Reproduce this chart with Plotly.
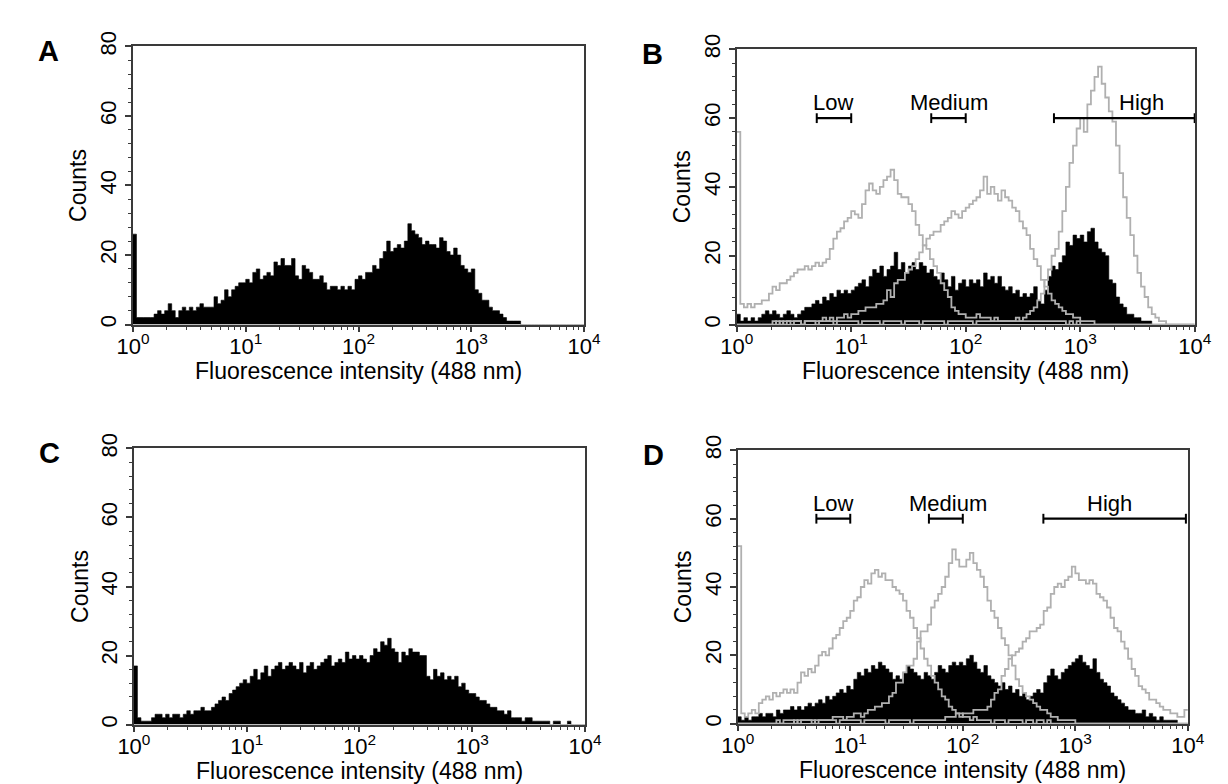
import math
import plotly.graph_objects as go

# flow cytometry histograms, 128 channels over 4 log decades (32 per decade)
CHANNELS_PER_DECADE = 32

A_counts = [
    26, 2, 2, 2, 2, 2, 3, 4, 3, 4, 6, 4, 2, 4, 5, 4,
    5, 4, 5, 6, 5, 5, 5, 8, 6, 7, 10, 8, 10, 11, 12, 12,
    13, 12, 15, 16, 13, 14, 15, 14, 18, 17, 19, 17, 17, 19, 14, 13,
    17, 16, 15, 13, 13, 14, 12, 10, 11, 11, 10, 11, 10, 11, 10, 13,
    14, 13, 15, 15, 17, 16, 19, 21, 24, 21, 22, 23, 22, 24, 29, 27,
    26, 25, 23, 24, 23, 23, 22, 25, 24, 21, 20, 22, 20, 17, 16, 15,
    16, 10, 9, 7, 7, 5, 4, 4, 3, 2, 1, 1, 1, 1, 0, 0,
    0, 0, 0, 0, 0, 0, 0, 0, 0, 0, 0, 0, 0, 0, 0, 0,
]

C_counts = [
    17, 2, 1, 1, 1, 2, 3, 3, 2, 3, 2, 3, 3, 2, 3, 4,
    3, 4, 4, 5, 4, 4, 5, 6, 7, 8, 7, 9, 10, 11, 12, 13,
    12, 14, 16, 13, 15, 17, 14, 16, 17, 18, 16, 17, 18, 17, 16, 18,
    15, 17, 18, 16, 17, 18, 19, 20, 17, 18, 19, 18, 21, 19, 20, 19,
    20, 19, 18, 20, 22, 21, 24, 23, 25, 22, 21, 18, 21, 20, 22, 21,
    21, 20, 20, 14, 13, 16, 14, 15, 13, 14, 13, 14, 11, 12, 10, 9,
    9, 8, 7, 7, 6, 5, 5, 4, 4, 3, 4, 2, 2, 2, 1, 2,
    2, 1, 1, 1, 1, 1, 0, 1, 1, 0, 0, 1, 0, 0, 0, 0,
]

B_counts = [
    3, 1, 2, 1, 2, 1, 2, 3, 4, 3, 4, 3, 2, 3, 4, 3,
    2, 3, 4, 5, 5, 6, 7, 6, 8, 7, 9, 8, 10, 9, 10, 9,
    10, 11, 12, 13, 11, 14, 16, 15, 17, 14, 16, 17, 21, 16, 18, 15,
    17, 18, 16, 18, 17, 15, 16, 14, 13, 15, 13, 11, 14, 10, 12, 13,
    11, 13, 12, 13, 11, 15, 13, 14, 12, 14, 11, 10, 11, 9, 10, 8,
    9, 8, 9, 11, 7, 6, 10, 14, 17, 16, 18, 20, 24, 23, 26, 25,
    26, 24, 27, 28, 24, 22, 21, 20, 13, 12, 8, 6, 5, 3, 3, 2,
    2, 1, 1, 1, 0, 0, 0, 0, 0, 0, 0, 0, 0, 0, 0, 0,
]

B_low = [
    56, 6, 5, 6, 5, 6, 6, 7, 7, 9, 11, 10, 12, 12, 13, 14,
    15, 16, 16, 17, 16, 17, 18, 17, 18, 19, 22, 25, 27, 28, 30, 31,
    33, 32, 31, 35, 39, 41, 39, 38, 40, 42, 43, 45, 42, 38, 37, 37,
    35, 33, 29, 26, 23, 22, 19, 17, 15, 12, 10, 8, 5, 4, 3, 3,
    2, 2, 2, 3, 2, 2, 2, 1, 2, 1, 1, 1, 1, 1, 1, 1,
    1, 1, 1, 1, 1, 1, 1, 1, 1, 1, 1, 1, 0, 1, 0, 1,
    0, 0, 0, 0, 0, 0, 0, 0, 0, 0, 0, 0, 0, 0, 0, 0,
    0, 0, 0, 0, 0, 0, 0, 0, 0, 0, 0, 0, 0, 0, 0, 0,
]

B_medium = [
    0, 0, 0, 0, 0, 0, 0, 0, 0, 0, 1, 0, 1, 0, 1, 1,
    1, 1, 0, 1, 1, 1, 1, 1, 2, 1, 2, 1, 2, 2, 3, 2,
    3, 3, 4, 4, 5, 5, 5, 6, 6, 7, 10, 8, 12, 13, 13, 15,
    16, 17, 19, 21, 23, 25, 26, 27, 27, 29, 30, 31, 33, 32, 31, 33,
    34, 35, 36, 37, 39, 43, 38, 40, 38, 36, 39, 37, 36, 34, 33, 30,
    28, 26, 22, 19, 17, 13, 11, 9, 7, 6, 5, 4, 3, 3, 2, 2,
    1, 1, 1, 1, 0, 0, 0, 0, 0, 0, 0, 0, 0, 0, 0, 0,
    0, 0, 0, 0, 0, 0, 0, 0, 0, 0, 0, 0, 0, 0, 0, 0,
]

B_high = [
    0, 0, 0, 0, 0, 0, 0, 0, 0, 0, 0, 1, 0, 1, 1, 0,
    1, 1, 0, 1, 1, 1, 0, 1, 1, 1, 1, 0, 1, 1, 1, 1,
    1, 1, 0, 1, 1, 1, 1, 1, 0, 1, 1, 1, 1, 1, 0, 1,
    1, 1, 1, 0, 1, 1, 1, 1, 1, 1, 0, 1, 1, 1, 1, 1,
    1, 1, 0, 1, 1, 1, 1, 1, 1, 1, 1, 1, 1, 1, 2, 1,
    2, 3, 4, 5, 7, 9, 13, 16, 20, 22, 27, 33, 40, 47, 52, 57,
    60, 56, 64, 68, 72, 75, 70, 66, 62, 59, 52, 44, 37, 31, 26, 20,
    15, 11, 8, 5, 3, 2, 1, 1, 0, 0, 0, 0, 0, 0, 0, 0,
]

D_counts = [
    2, 1, 2, 1, 2, 2, 3, 2, 3, 3, 2, 4, 3, 4, 4, 5,
    4, 5, 4, 5, 6, 5, 6, 7, 6, 8, 7, 8, 9, 10, 9, 11,
    10, 13, 15, 14, 16, 15, 17, 16, 18, 17, 16, 15, 13, 14, 13, 15,
    17, 16, 15, 14, 13, 15, 14, 13, 15, 17, 16, 15, 17, 18, 17, 18,
    17, 19, 20, 18, 16, 15, 17, 14, 13, 12, 11, 12, 10, 11, 9, 10,
    8, 9, 7, 8, 9, 10, 9, 12, 14, 16, 14, 13, 15, 16, 17, 18,
    19, 20, 18, 17, 16, 19, 15, 13, 12, 11, 9, 8, 7, 6, 5, 4,
    4, 3, 3, 4, 2, 3, 2, 1, 2, 1, 1, 1, 1, 0, 0, 0,
]

D_low = [
    52, 3, 2, 3, 4, 3, 6, 7, 8, 7, 9, 8, 9, 10, 9, 10,
    9, 12, 15, 14, 16, 15, 17, 20, 21, 20, 22, 25, 26, 28, 30, 31,
    33, 36, 37, 40, 42, 41, 44, 45, 43, 44, 42, 42, 40, 39, 38, 36,
    33, 31, 28, 25, 22, 19, 17, 14, 12, 10, 8, 7, 5, 4, 3, 3,
    2, 2, 1, 2, 1, 1, 1, 1, 0, 1, 1, 1, 0, 1, 1, 1,
    1, 0, 1, 1, 0, 1, 1, 0, 1, 0, 0, 0, 0, 0, 0, 0,
    0, 0, 0, 0, 0, 0, 0, 0, 0, 0, 0, 0, 0, 0, 0, 0,
    0, 0, 0, 0, 0, 0, 0, 0, 0, 0, 0, 0, 0, 0, 0, 0,
]

D_medium = [
    0, 0, 0, 0, 0, 0, 0, 0, 0, 0, 0, 0, 0, 0, 0, 0,
    1, 0, 1, 1, 1, 1, 0, 1, 1, 1, 1, 2, 2, 2, 1, 2,
    2, 3, 3, 2, 3, 4, 4, 5, 5, 6, 6, 8, 9, 12, 12, 15,
    17, 17, 19, 24, 27, 27, 29, 34, 36, 38, 40, 43, 47, 51, 48, 46,
    46, 48, 50, 47, 45, 43, 40, 36, 33, 31, 28, 25, 23, 20, 17, 13,
    11, 9, 8, 7, 6, 5, 4, 4, 3, 2, 2, 1, 1, 1, 1, 1,
    0, 0, 0, 0, 0, 0, 0, 0, 0, 0, 0, 0, 0, 0, 0, 0,
    0, 0, 0, 0, 0, 0, 0, 0, 0, 0, 0, 0, 0, 0, 0, 0,
]

D_high = [
    0, 0, 0, 0, 0, 0, 0, 0, 0, 0, 0, 1, 0, 1, 1, 1,
    0, 1, 1, 1, 1, 0, 1, 1, 1, 1, 1, 1, 0, 1, 1, 1,
    1, 1, 1, 0, 1, 1, 1, 1, 1, 1, 0, 1, 1, 1, 1, 1,
    1, 0, 1, 1, 1, 1, 1, 1, 1, 1, 1, 2, 2, 2, 3, 2,
    3, 3, 3, 4, 4, 4, 4, 5, 7, 9, 10, 14, 16, 19, 20, 21,
    22, 24, 25, 27, 27, 28, 29, 33, 34, 38, 40, 41, 40, 42, 43, 46,
    44, 42, 42, 41, 42, 41, 38, 37, 36, 34, 31, 28, 27, 24, 22, 19,
    16, 14, 11, 10, 9, 7, 7, 6, 5, 4, 4, 3, 3, 2, 2, 4,
]

# gates (start, end) and label positions, in intensity units
gate_names = ["Low", "Medium", "High"]
B_gates = [(5, 10), (50, 100), (590, 10000)]
D_gates = [(5, 10), (50, 100), (520, 9600)]
B_label_x = [7, 72, 3450]
D_label_x = [7, 74, 2000]
gate_y = 60
label_y = 64.5

decade_ticks = [1, 10, 100, 1000, 10000]
decade_labels = ["10<sup>%d</sup>" % k for k in range(5)]
count_ticks = [0, 20, 40, 60, 80]

FONT = "Liberation Sans, Arial, sans-serif"
AXIS_COLOR = "#3a3a3a"
GRAY = "#b0b0b0"
W, H = 1228, 784

# channel edges -> intensity
edges = [10 ** (i / CHANNELS_PER_DECADE) for i in range(len(A_counts) + 1)]


def step(counts):
    return counts + [counts[-1]]


fig = go.Figure()

# panel -> (x axis id, y axis id, pixel box left, right, top, bottom)
panels = {
    "A": ("x", "y", 111, 575, 23, 308),
    "B": ("x2", "y2", 732, 1203, 26, 308),
    "C": ("x3", "y3", 112, 576, 435, 718),
    "D": ("x4", "y4", 733, 1196, 437, 717),
}
filled = {"A": A_counts, "B": B_counts, "C": C_counts, "D": D_counts}
outlines = {"B": [B_low, B_medium, B_high], "D": [D_low, D_medium, D_high]}
gates = {"B": (B_gates, B_label_x), "D": (D_gates, D_label_x)}

annotations = []
for name, (xa, ya, l, r, t, b) in panels.items():
    fig.add_trace(go.Scatter(
        x=edges, y=step(filled[name]), xaxis=xa, yaxis=ya,
        mode="lines", line=dict(color="black", width=0.6, shape="hv"),
        fill="tozeroy", fillcolor="black", hoverinfo="skip"))
    for curve in outlines.get(name, []):
        fig.add_trace(go.Scatter(
            x=edges, y=step(curve), xaxis=xa, yaxis=ya,
            mode="lines", line=dict(color=GRAY, width=1.8, shape="hv"),
            hoverinfo="skip"))
    if name in gates:
        gate_list, label_x = gates[name]
        for gname, (g0, g1), lx in zip(gate_names, gate_list, label_x):
            fig.add_trace(go.Scatter(
                x=[g0, g1], y=[gate_y, gate_y], xaxis=xa, yaxis=ya,
                mode="lines+markers", line=dict(color="black", width=2.2),
                marker=dict(symbol="line-ns", size=7,
                            line=dict(width=2, color="black")),
                cliponaxis=False, hoverinfo="skip"))
            # annotations on a log axis take log10 positions
            annotations.append(dict(
                x=math.log10(lx), y=label_y, xref=xa, yref=ya, text=gname,
                showarrow=False, yanchor="middle",
                font=dict(family=FONT, size=22, color="black")))

    sfx = xa[1:]
    fig.layout["xaxis" + sfx] = dict(
        type="log", range=[0, 4], domain=[l / W, r / W], anchor=ya,
        tickvals=decade_ticks, ticktext=decade_labels,
        ticks="outside", ticklen=6, tickwidth=1.5, tickcolor=AXIS_COLOR,
        ticklabelstandoff=-5,
        showline=True, linecolor=AXIS_COLOR, linewidth=1.5, mirror=True,
        showgrid=False, zeroline=False,
        minor=dict(tickvals=[m * 10 ** k for k in range(4) for m in range(2, 10)],
                   ticks="outside", ticklen=4, tickwidth=1, tickcolor=AXIS_COLOR),
        tickfont=dict(family=FONT, size=22, color="black"))
    fig.layout["yaxis" + sfx] = dict(
        range=[0, 80], domain=[1 - b / H, 1 - t / H], anchor=xa,
        tickvals=count_ticks, tickangle=-90,
        ticks="outside", ticklen=6, tickwidth=1.5, tickcolor=AXIS_COLOR,
        showline=True, linecolor=AXIS_COLOR, linewidth=1.5, mirror=True,
        showgrid=False, zeroline=False,
        minor=dict(dtick=4, ticks="outside", ticklen=3, tickwidth=1,
                   tickcolor=AXIS_COLOR),
        tickfont=dict(family=FONT, size=22, color="black"))

    # axis titles and panel letter
    annotations.append(dict(
        x=(l + r) / 2 / W, y=1 - (b + 48) / H, xref="paper", yref="paper",
        text="Fluorescence intensity (488 nm)", showarrow=False,
        xanchor="center", yanchor="middle",
        font=dict(family=FONT, size=23, color="black")))
    annotations.append(dict(
        x=(l - 56) / W, y=1 - (t + b) / 2 / H, xref="paper", yref="paper",
        text="Counts", textangle=-90, showarrow=False,
        xanchor="center", yanchor="middle",
        font=dict(family=FONT, size=23, color="black")))
    annotations.append(dict(
        x=(l - 87) / W, y=1 - (t + 5) / H, xref="paper", yref="paper",
        text="<b>%s</b>" % name, showarrow=False,
        xanchor="center", yanchor="middle",
        font=dict(family=FONT, size=29, color="black")))

fig.update_layout(
    width=W, height=H,
    margin=dict(l=0, r=0, t=0, b=0),
    paper_bgcolor="white", plot_bgcolor="white",
    showlegend=False,
    annotations=annotations,
)

fig.write_html("out.html")
